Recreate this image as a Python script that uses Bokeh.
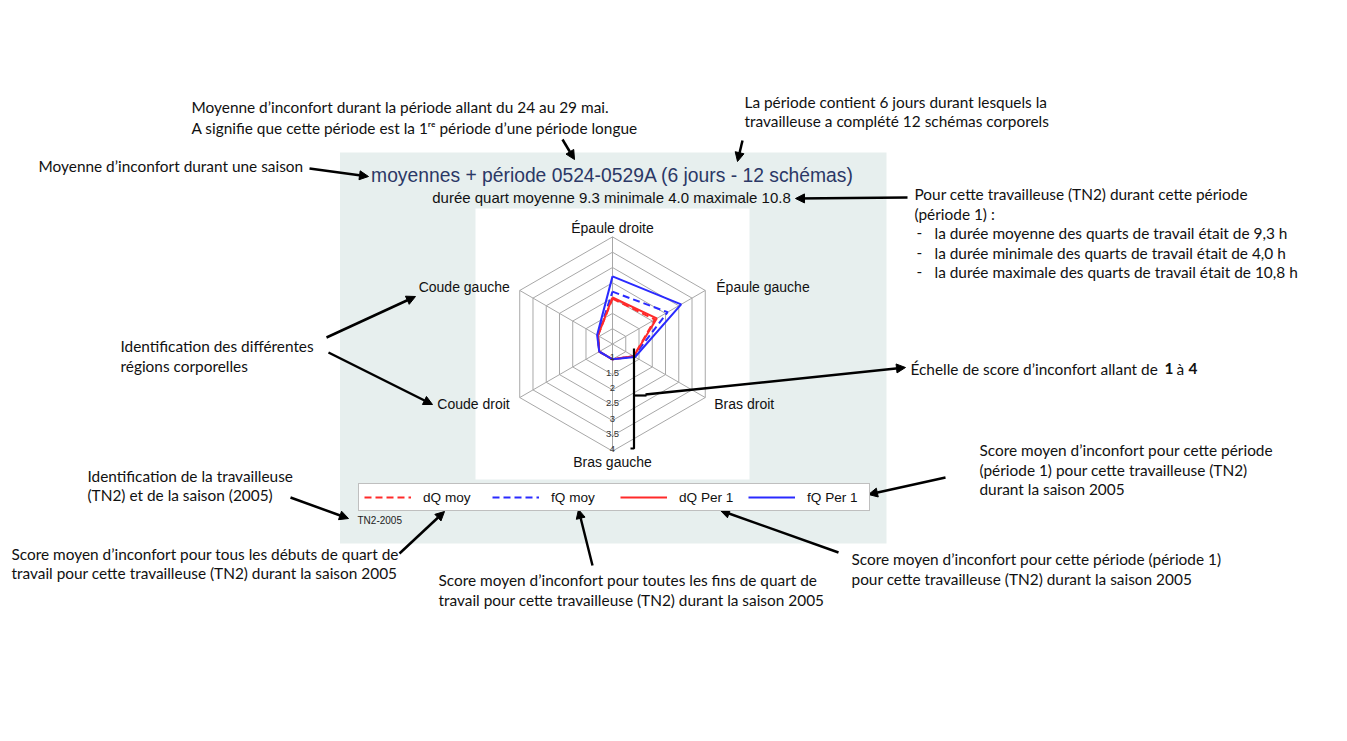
import math
from bokeh.plotting import figure
from bokeh.models import Range1d, Arrow, NormalHead, Legend, LegendItem
from bokeh.core.properties import value
from bokeh.embed import file_html
from bokeh.resources import INLINE

# ---------------- data ----------------
regions = ["Épaule droite", "Épaule gauche", "Bras droit", "Bras gauche", "Coude droit", "Coude gauche"]
dq_moy = [1.98, 2.10, 1.30, 1.00, 1.00, 1.05]
fq_moy = [2.21, 2.58, 1.30, 1.00, 1.00, 1.05]
dq_per1 = [2.02, 2.17, 1.30, 1.00, 1.00, 1.05]
fq_per1 = [2.71, 3.09, 1.35, 1.00, 1.00, 1.08]
series_names = ["dQ moy", "fQ moy", "dQ Per 1", "fQ Per 1"]
scale_ticks = [1, 1.5, 2, 2.5, 3, 3.5, 4]
scale_labels = ["1", "1.5", "2", "2.5", "3", "3.5", "4"]
title = "moyennes + période 0524-0529A (6 jours - 12 schémas)"
subtitle = "durée quart moyenne 9.3 minimale 4.0 maximale 10.8"
worker = "TN2-2005"

# ---------------- figure (data units == screenshot pixels) ----------------
W, H = 1331, 725
p = figure(width=W, height=H, output_backend="svg", toolbar_location=None,
           x_range=Range1d(0, W), y_range=Range1d(H, 0),
           x_axis_location=None, y_axis_location=None, min_border=0)
p.grid.visible = False
p.outline_line_color = None
p.background_fill_color = "white"
p.border_fill_color = "white"

ARIAL = value("Liberation Sans")
CAL = value("Lato")

# panel and plot area
p.quad(left=[339.5], right=[886], top=[152], bottom=[543], fill_color="#e7efee", line_color=None)
p.quad(left=[475], right=[749], top=[208], bottom=[479], fill_color="white", line_color=None)

# titles
p.text(x=[612], y=[175], text=[title], text_font=ARIAL, text_font_size="19.3px",
       text_color="#2b3866", text_align="center", text_baseline="middle")
p.text(x=[611], y=[197], text=[subtitle], text_font=ARIAL, text_font_size="15px",
       text_color="#111111", text_align="center", text_baseline="middle")

# ---------------- radar ----------------
CX, CY, V0, K = 612.0, 343.5, 0.5, 30.6
N = len(regions)


def pol(v, i):
    a = math.radians(90 - 360.0 / N * i)
    r = (v - V0) * K
    return CX + r * math.cos(a), CY - r * math.sin(a)


ring_xs, ring_ys = [], []
for t in scale_ticks:
    pts = [pol(t, i % N) for i in range(N + 1)]
    ring_xs.append([q[0] for q in pts])
    ring_ys.append([q[1] for q in pts])
p.multi_line(ring_xs, ring_ys, line_color="#a8a8a8", line_width=1)
outer = [pol(scale_ticks[-1], i) for i in range(N)]
p.segment(x0=[CX] * N, y0=[CY] * N, x1=[q[0] for q in outer], y1=[q[1] for q in outer],
          line_color="#a8a8a8", line_width=1)

# region labels
lab_align = ["center", "left", "left", "center", "right", "right"]
lab_base = ["bottom", "middle", "middle", "top", "middle", "middle"]
lab_dx = [0, 11, 9, 0, -10, -10]
lab_dy = [-1, -3, 6, 3, 6, -3]
for i, name in enumerate(regions):
    x, y = outer[i]
    p.text(x=[x + lab_dx[i]], y=[y + lab_dy[i]], text=[name], text_font=ARIAL,
           text_font_size="14px", text_color="#111111", text_align=lab_align[i],
           text_baseline=lab_base[i])

series_vals = [dq_moy, fq_moy, dq_per1, fq_per1]
series_col = ["#ff2a2a", "#2a2aff", "#ff2a2a", "#2a2aff"]
series_dash = ["7 4", "7 4", "solid", "solid"]
renderers = []
for vals, col, dash in zip(series_vals, series_col, series_dash):
    pts = [pol(vals[i % N], i % N) for i in range(N + 1)]
    r = p.line([q[0] for q in pts], [q[1] for q in pts], line_color=col, line_width=2,
               line_dash=dash)
    renderers.append(r)

# scale labels along bottom spoke (drawn above the series)
lab_pts = [pol(t, 3) for t in scale_ticks]
p.text(x=[q[0] for q in lab_pts], y=[q[1] for q in lab_pts], text=scale_labels, text_font=ARIAL,
       text_font_size="9.5px", text_color="#333333", text_align="center", text_baseline="bottom",
       y_offset=1)

legend = Legend(items=[LegendItem(label=n, renderers=[r]) for n, r in zip(series_names, renderers)],
                orientation="horizontal", location=(358, H - 511),
                glyph_width=47, glyph_height=16, label_standoff=12, label_width=57,
                label_height=16, spacing=12, padding=5, margin=0,
                border_line_color="#808080", border_line_width=1,
                background_fill_color="white", background_fill_alpha=1,
                label_text_font="Liberation Sans", label_text_font_size="13.6px",
                label_text_color="#111111")
p.add_layout(legend)

p.text(x=[357], y=[520], text=[worker], text_font=ARIAL, text_font_size="10px",
       text_color="#222222", text_align="left", text_baseline="middle")

# ---------------- explanatory annotations ----------------
notes = [
    (191, 106, "Moyenne d’inconfort durant la période allant du 24 au 29 mai."),
    (191, 127, "A signifie que cette période est la 1ʳᵉ période d’une période longue"),
    (744, 101, "La période contient 6 jours durant lesquels la"),
    (744, 120, "travailleuse a complété 12 schémas corporels"),
    (38, 165, "Moyenne d’inconfort durant une saison"),
    (914, 193, "Pour cette travailleuse (TN2)  durant cette période"),
    (914, 213, "(période 1) :"),
    (916, 232, "-"), (934, 232, "la durée moyenne des quarts de travail était de 9,3 h"),
    (916, 252, "-"), (934, 252, "la durée minimale des quarts de travail était de 4,0 h"),
    (916, 271, "-"), (934, 271, "la durée maximale des quarts de travail était de 10,8 h"),
    (120, 345, "Identification des différentes"),
    (120, 365, "régions corporelles"),
    (910, 368, "Échelle de score d’inconfort allant de"),
    (1176, 368, "à"),
    (979, 449, "Score moyen d’inconfort pour cette période"),
    (979, 469, "(période 1) pour cette travailleuse (TN2)"),
    (979, 488, "durant la saison 2005"),
    (87, 475, "Identification de la travailleuse"),
    (87, 494, "(TN2) et de la saison (2005)"),
    (11, 553, "Score moyen d’inconfort pour tous les débuts de quart de"),
    (11, 572, "travail pour cette travailleuse (TN2) durant la saison 2005"),
    (438, 579, "Score moyen d’inconfort pour toutes les fins de quart de"),
    (438, 599, "travail pour cette travailleuse (TN2) durant la saison 2005"),
    (851, 558, "Score moyen d’inconfort pour cette période (période 1)"),
    (851, 578, "pour cette travailleuse (TN2) durant la saison 2005"),
]
p.text(x=[n[0] for n in notes], y=[n[1] for n in notes], text=[n[2] for n in notes],
       text_font=CAL, text_font_size="15.4px", text_color="#111111",
       text_align="left", text_baseline="middle")
p.text(x=[1164, 1188], y=[368, 368], text=["1", "4"], text_font=CAL, text_font_size="15.4px",
       text_font_style="bold", text_color="#111111", text_align="left", text_baseline="middle")

# scale bracket
p.line([630, 633.5, 633.5], [448, 448, 348], line_color="black", line_width=2.2)
p.line([633.5, 646], [395, 395], line_color="black", line_width=2.2)

arrows = [
    (309, 168, 368, 176), (562, 139, 574, 159), (742, 140, 737, 161), (907, 197, 795, 198),
    (326, 337, 415, 296), (328, 352, 432, 404), (645, 394, 905, 367), (945, 477, 868, 494),
    (290, 497, 348, 518), (399, 553, 444, 511), (592, 565, 578, 509), (838, 552, 720, 510),
]
for x0, y0, x1, y1 in arrows:
    p.add_layout(Arrow(end=NormalHead(size=9, fill_color="black", line_color="black"),
                       x_start=x0, y_start=y0, x_end=x1, y_end=y1,
                       line_color="black", line_width=2.5))

open("out.html", "w").write(file_html(p, INLINE))
